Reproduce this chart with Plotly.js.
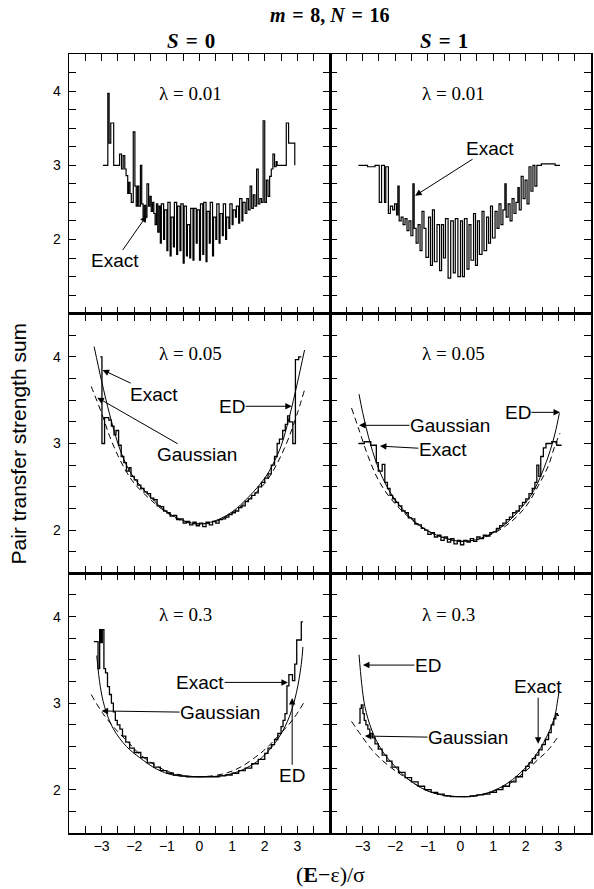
<!DOCTYPE html>
<html><head><meta charset="utf-8">
<script src="https://cdn.plot.ly/plotly-3.0.1.min.js"></script>
<style>html,body{margin:0;padding:0;background:#fff}</style>
</head><body><div id="chart" style="width:594px;height:889px"></div>
<script>
// ---------------- data ----------------
const xTickVals = [-4,-3.5,-3,-2.5,-2,-1.5,-1,-0.5,0,0.5,1,1.5,2,2.5,3,3.5,4];
const xTickText = ['','','\u22123','','\u22122','','\u22121','','0','','1','','2','','3','',''];
const yTickValsTop = [1,1.25,1.5,1.75,2,2.25,2.5,2.75,3,3.25,3.5,3.75,4,4.25,4.5];
const yTickTextTop = ['','','','','2','','','','3','','','','4','',''];
const yTickValsLow = [1.5,1.75,2,2.25,2.5,2.75,3,3.25,3.5,3.75,4,4.25,4.5];
const yTickTextLow = ['','','2','','','','3','','','','4','',''];

// S = 0, lambda = 0.01 : exact (step) [x, y]
const exactS0L001 = [[-2.96,3.00],[-2.81,3.97],[-2.77,3.30],[-2.72,3.57],[-2.63,3.00],[-2.45,3.15],[-2.39,2.95],[-2.34,3.13],[-2.29,2.95],[-2.25,2.86],[-2.20,2.62],[-2.17,2.77],[-2.13,2.62],[-2.09,2.50],[-2.03,3.45],[-1.98,2.72],[-1.94,2.45],[-1.90,2.72],[-1.86,2.45],[-1.81,3.00],[-1.77,2.48],[-1.73,2.30],[-1.69,2.46],[-1.65,2.30],[-1.61,2.75],[-1.56,2.45],[-1.52,2.58],[-1.48,2.38],[-1.44,2.50],[-1.40,2.35],[-1.36,2.20],[-1.32,2.48],[-1.28,2.10],[-1.24,2.45],[-1.20,1.95],[-1.17,2.48],[-1.10,2.00],[-1.07,2.40],[-1.00,1.85],[-0.97,2.50],[-0.90,1.78],[-0.87,2.30],[-0.80,1.90],[-0.77,2.50],[-0.70,1.80],[-0.67,2.45],[-0.60,1.85],[-0.57,2.48],[-0.50,1.68],[-0.47,2.45],[-0.40,1.78],[-0.37,2.20],[-0.30,1.75],[-0.27,2.42],[-0.20,1.72],[-0.17,2.42],[-0.10,1.95],[-0.07,2.40],[0.00,1.72],[0.03,2.48],[0.10,1.80],[0.13,2.50],[0.20,1.70],[0.23,2.38],[0.30,1.95],[0.33,2.50],[0.40,1.78],[0.43,2.30],[0.50,2.00],[0.53,2.48],[0.60,1.95],[0.63,2.35],[0.70,2.05],[0.73,2.48],[0.80,2.00],[0.83,2.30],[0.90,2.15],[0.93,2.48],[1.00,2.20],[1.03,2.40],[1.10,2.30],[1.13,2.45],[1.20,2.22],[1.23,2.55],[1.30,2.25],[1.33,2.50],[1.40,2.35],[1.45,2.55],[1.50,2.40],[1.55,2.72],[1.60,2.42],[1.65,2.60],[1.70,2.45],[1.75,2.95],[1.80,2.48],[1.85,2.55],[1.90,2.50],[1.95,3.60],[2.00,2.50],[2.05,2.80],[2.10,2.58],[2.15,2.85],[2.20,2.95],[2.25,3.15],[2.30,2.98],[2.35,3.05],[2.38,3.00],[2.66,3.57],[2.73,3.30],[2.92,3.00]];

// S = 1, lambda = 0.01 : exact (step)
const exactS1L001 = [[-3.13,3.00],[-2.85,2.98],[-2.62,3.00],[-2.49,2.50],[-2.42,3.00],[-2.33,2.50],[-2.29,2.98],[-2.21,2.35],[-2.15,2.45],[-2.08,2.40],[-2.02,2.48],[-1.96,2.33],[-1.92,2.72],[-1.88,2.25],[-1.82,2.30],[-1.76,2.20],[-1.70,2.28],[-1.64,2.12],[-1.58,2.25],[-1.52,2.05],[-1.46,2.75],[-1.42,2.15],[-1.36,1.95],[-1.30,2.20],[-1.24,1.85],[-1.18,2.38],[-1.12,2.15],[-1.06,1.76],[-0.98,2.30],[-0.92,1.65],[-0.86,2.40],[-0.80,1.70],[-0.72,2.20],[-0.64,1.58],[-0.58,2.20],[-0.52,1.75],[-0.46,2.28],[-0.38,1.48],[-0.30,2.25],[-0.22,1.55],[-0.16,2.28],[-0.08,1.50],[0.00,2.25],[0.06,1.50],[0.12,2.28],[0.20,1.60],[0.26,2.20],[0.32,1.72],[0.40,2.35],[0.46,1.65],[0.52,2.25],[0.58,1.80],[0.66,2.38],[0.72,1.85],[0.80,2.30],[0.86,1.95],[0.92,2.45],[0.98,2.02],[1.06,2.38],[1.12,2.15],[1.18,2.48],[1.24,2.20],[1.30,2.40],[1.36,2.75],[1.40,2.30],[1.46,2.48],[1.52,2.25],[1.58,2.55],[1.64,2.35],[1.70,2.50],[1.76,2.70],[1.80,2.40],[1.86,2.85],[1.92,2.55],[1.98,2.80],[2.04,2.48],[2.10,2.98],[2.16,2.65],[2.22,3.00],[2.28,2.72],[2.34,3.00],[2.48,3.02],[2.90,3.00],[3.05,3.00]];

// S = 0, lambda = 0.05
const exactS0L005 = [[-3.04,4.00],[-2.99,3.00],[-2.91,3.30],[-2.78,3.27],[-2.70,3.20],[-2.62,3.10],[-2.56,3.15],[-2.48,2.98],[-2.40,2.85],[-2.32,2.78],[-2.24,2.68],[-2.16,2.72],[-2.10,2.62],[-2.00,2.58],[-1.90,2.52],[-1.80,2.48],[-1.70,2.44],[-1.60,2.42],[-1.50,2.37],[-1.40,2.35],[-1.30,2.28],[-1.20,2.27],[-1.10,2.22],[-1.00,2.20],[-0.90,2.16],[-0.80,2.17],[-0.70,2.12],[-0.60,2.13],[-0.50,2.08],[-0.40,2.10],[-0.30,2.06],[-0.20,2.09],[-0.10,2.05],[0.00,2.08],[0.10,2.04],[0.20,2.09],[0.30,2.06],[0.40,2.10],[0.50,2.08],[0.60,2.12],[0.70,2.13],[0.80,2.15],[0.90,2.18],[1.00,2.20],[1.10,2.22],[1.20,2.26],[1.30,2.28],[1.40,2.33],[1.50,2.36],[1.60,2.40],[1.70,2.43],[1.80,2.50],[1.90,2.55],[2.00,2.60],[2.10,2.65],[2.20,2.75],[2.30,2.85],[2.38,3.00],[2.45,3.05],[2.55,3.15],[2.63,3.22],[2.70,3.32],[2.76,3.25],[2.86,3.00],[2.94,3.97],[3.04,4.00],[3.12,4.00]];
const edS0L005 = [[-3.23,4.12],[-3.00,3.72],[-2.75,3.33],[-2.50,3.00],[-2.25,2.76],[-2.00,2.60],[-1.50,2.38],[-1.00,2.21],[-0.50,2.11],[0.00,2.07],[0.50,2.11],[1.00,2.21],[1.50,2.38],[2.00,2.60],[2.25,2.76],[2.50,2.97],[2.75,3.30],[3.00,3.70],[3.22,4.08]];
const gaussS0L005 = [[-3.32,3.66],[-3.00,3.35],[-2.75,3.08],[-2.50,2.86],[-2.25,2.68],[-2.00,2.54],[-1.50,2.35],[-1.00,2.20],[-0.50,2.10],[0.00,2.07],[0.50,2.10],[1.00,2.20],[1.50,2.35],[2.00,2.54],[2.25,2.68],[2.50,2.86],[2.75,3.08],[3.00,3.35],[3.22,3.62]];

// S = 1, lambda = 0.05
const exactS1L005 = [[-3.13,3.00],[-2.95,3.02],[-2.75,2.98],[-2.58,2.78],[-2.52,2.68],[-2.40,2.76],[-2.32,2.55],[-2.24,2.48],[-2.16,2.40],[-2.08,2.36],[-2.00,2.32],[-1.90,2.28],[-1.80,2.22],[-1.70,2.20],[-1.60,2.14],[-1.50,2.13],[-1.40,2.07],[-1.30,2.06],[-1.20,2.02],[-1.10,2.00],[-1.00,1.95],[-0.90,1.97],[-0.80,1.92],[-0.70,1.94],[-0.60,1.88],[-0.50,1.92],[-0.40,1.86],[-0.30,1.90],[-0.20,1.84],[-0.10,1.88],[0.00,1.83],[0.10,1.88],[0.20,1.86],[0.30,1.90],[0.40,1.87],[0.50,1.92],[0.60,1.90],[0.70,1.94],[0.80,1.93],[0.90,1.97],[1.00,1.98],[1.10,2.02],[1.20,2.05],[1.30,2.08],[1.40,2.12],[1.50,2.15],[1.60,2.20],[1.70,2.22],[1.80,2.28],[1.90,2.32],[2.00,2.36],[2.10,2.42],[2.20,2.48],[2.28,2.55],[2.34,2.75],[2.40,2.62],[2.46,2.85],[2.54,2.95],[2.62,3.00],[2.80,3.02],[2.95,2.98],[3.10,2.98]];
const edS1L005 = [[-3.11,3.57],[-3.00,3.36],[-2.75,2.98],[-2.50,2.70],[-2.25,2.50],[-2.00,2.35],[-1.50,2.13],[-1.00,1.99],[-0.50,1.91],[0.00,1.87],[0.50,1.89],[1.00,1.97],[1.50,2.11],[2.00,2.32],[2.25,2.46],[2.50,2.66],[2.75,2.92],[2.90,3.12],[3.03,3.35]];
const gaussS1L005 = [[-3.34,3.41],[-3.13,3.18],[-2.83,2.85],[-2.52,2.58],[-2.11,2.35],[-1.50,2.12],[-1.00,1.99],[-0.50,1.91],[0.00,1.87],[0.50,1.89],[1.00,1.96],[1.50,2.08],[2.00,2.27],[2.38,2.51],[2.69,2.74],[2.89,2.97],[3.05,3.12]];

// S = 0, lambda = 0.3
const exactS0L03 = [[-3.24,3.71],[-3.11,3.40],[-3.06,3.85],[-3.02,3.70],[-2.98,3.85],[-2.93,3.40],[-2.88,3.35],[-2.82,3.19],[-2.76,3.10],[-2.70,3.00],[-2.64,2.90],[-2.58,2.80],[-2.52,2.75],[-2.44,2.70],[-2.36,2.62],[-2.26,2.55],[-2.14,2.48],[-2.00,2.43],[-1.80,2.37],[-1.60,2.31],[-1.40,2.26],[-1.20,2.22],[-1.00,2.19],[-0.80,2.17],[-0.60,2.16],[-0.40,2.15],[-0.20,2.15],[0.00,2.15],[0.20,2.15],[0.40,2.15],[0.60,2.16],[0.80,2.17],[1.00,2.19],[1.20,2.22],[1.40,2.25],[1.60,2.30],[1.80,2.35],[2.00,2.42],[2.10,2.48],[2.20,2.52],[2.30,2.58],[2.40,2.65],[2.50,2.73],[2.56,2.80],[2.62,2.88],[2.68,3.20],[2.74,3.33],[2.85,3.26],[2.92,3.45],[2.98,3.73],[3.12,3.94],[3.17,3.94]];
const edS0L03 = [[-3.15,3.55],[-3.04,3.19],[-2.91,2.96],[-2.65,2.71],[-2.24,2.50],[-1.83,2.37],[-1.32,2.24],[-0.81,2.17],[0.00,2.15],[0.82,2.17],[1.43,2.25],[1.94,2.38],[2.46,2.62],[2.76,2.85],[2.97,3.12],[3.12,3.45],[3.17,3.65]];
const gaussS0L03 = [[-3.32,3.10],[-2.96,2.88],[-2.55,2.69],[-2.14,2.53],[-1.83,2.41],[-1.30,2.27],[-0.80,2.19],[0.00,2.15],[0.80,2.19],[1.30,2.27],[1.83,2.41],[2.05,2.48],[2.46,2.64],[2.86,2.81],[3.22,3.02]];

// S = 1, lambda = 0.3
const exactS1L03 = [[-3.13,2.77],[-3.08,2.94],[-3.04,2.98],[-2.99,2.88],[-2.95,2.80],[-2.90,2.75],[-2.84,2.70],[-2.78,2.65],[-2.70,2.60],[-2.62,2.53],[-2.52,2.47],[-2.40,2.40],[-2.26,2.33],[-2.10,2.26],[-1.90,2.20],[-1.70,2.14],[-1.50,2.09],[-1.30,2.04],[-1.10,2.00],[-0.90,1.97],[-0.70,1.95],[-0.50,1.93],[-0.30,1.92],[-0.10,1.92],[0.10,1.92],[0.30,1.93],[0.50,1.94],[0.70,1.95],[0.90,1.97],[1.10,2.00],[1.30,2.04],[1.50,2.09],[1.70,2.15],[1.90,2.22],[2.00,2.27],[2.10,2.31],[2.20,2.36],[2.30,2.40],[2.40,2.46],[2.50,2.52],[2.60,2.58],[2.70,2.66],[2.78,2.75],[2.86,2.82],[2.92,2.88],[2.97,2.86],[3.02,2.86]];
const edS1L03 = [[-3.11,3.56],[-3.03,3.23],[-2.93,2.96],[-2.72,2.69],[-2.42,2.46],[-2.01,2.27],[-1.60,2.12],[-1.09,2.00],[-0.58,1.94],[-0.07,1.92],[0.44,1.93],[0.95,1.98],[1.46,2.08],[1.98,2.25],[2.38,2.44],[2.69,2.65],[2.89,2.85],[2.98,3.04],[3.02,3.13]];
const gaussS1L03 = [[-3.34,2.79],[-3.03,2.62],[-2.62,2.42],[-2.11,2.25],[-1.60,2.12],[-1.09,2.00],[-0.58,1.94],[0.00,1.92],[0.50,1.93],[1.00,1.98],[1.50,2.07],[1.98,2.21],[2.38,2.35],[2.69,2.46],[3.00,2.62]];

// ---------------- drawing ----------------
const K = '#000';
function exactTrace(d, xa, ya, w){ return {x:d.map(p=>p[0]), y:d.map(p=>p[1]), xaxis:xa, yaxis:ya, mode:'lines', line:{shape:'hv', color:K, width:w||1.3}, hoverinfo:'skip', showlegend:false}; }
function edTrace(d, xa, ya){ return {x:d.map(p=>p[0]), y:d.map(p=>p[1]), xaxis:xa, yaxis:ya, mode:'lines', line:{shape:'spline', smoothing:1, color:K, width:1}, hoverinfo:'skip', showlegend:false}; }
function gaussTrace(d, xa, ya){ return {x:d.map(p=>p[0]), y:d.map(p=>p[1]), xaxis:xa, yaxis:ya, mode:'lines', line:{shape:'spline', smoothing:1, color:K, width:1, dash:'6px,4px'}, hoverinfo:'skip', showlegend:false}; }

const traces = [
  exactTrace(exactS0L001,'x','y',1.2),
  exactTrace(exactS1L001,'x2','y2',1.2),
  gaussTrace(gaussS0L005,'x3','y3'), edTrace(edS0L005,'x3','y3'), exactTrace(exactS0L005,'x3','y3'),
  gaussTrace(gaussS1L005,'x4','y4'), edTrace(edS1L005,'x4','y4'), exactTrace(exactS1L005,'x4','y4'),
  gaussTrace(gaussS0L03,'x5','y5'), edTrace(edS0L03,'x5','y5'), exactTrace(exactS0L03,'x5','y5'),
  gaussTrace(gaussS1L03,'x6','y6'), edTrace(edS1L03,'x6','y6'), exactTrace(exactS1L03,'x6','y6')
];

const SANS = 'Liberation Sans, Arial, Helvetica, sans-serif';
const SERIF = 'Liberation Serif, Times New Roman, serif';
const base = {showline:true, linecolor:K, linewidth:1.5, mirror:'allticks', ticks:'inside', ticklen:7, tickwidth:1, tickcolor:K,
  showgrid:false, zeroline:false, tickmode:'array', tickfont:{family:SANS, size:14, color:K}, fixedrange:true};
function xa(dom, anchor, labels){ return Object.assign({}, base, {domain:dom, anchor:anchor, range:[-4,4], tickvals:xTickVals, ticktext:xTickText, showticklabels:labels}); }
function ya(dom, anchor, top, labels){ return Object.assign({}, base, {domain:dom, anchor:anchor, range: top?[1,4.5]:[1.5,4.5], tickvals: top?yTickValsTop:yTickValsLow, ticktext: top?yTickTextTop:yTickTextLow, showticklabels:labels, ticklabelstandoff:4}); }

const C1=[0,0.5], C2=[0.5,1], R1=[2/3,1], R2=[1/3,2/3], R3=[0,1/3];

function arrow(text, xr, yr, x, y, ax, ay){
  return {text:text, xref:xr, yref:yr, axref:xr, ayref:yr, x:x, y:y, ax:ax, ay:ay, showarrow:true,
    arrowhead:2, arrowsize:1.3, arrowwidth:1, arrowcolor:K, font:{family:SANS, size:19, color:K}, borderpad:0};
}
function lam(text, x, y){ return {text:text, xref:'paper', yref:'paper', x:x, y:y, xanchor:'left', yanchor:'middle', showarrow:false, font:{family:SERIF, size:19, color:K}}; }

const annotations = [
  {text:'<b><i>m</i>\u2004=\u20048, <i>N</i>\u2004=\u200416</b>', xref:'paper', yref:'paper', x:0.5, y:1.05, xanchor:'center', yanchor:'middle', showarrow:false, font:{family:SERIF, size:20, color:K}},
  {text:'<b><i>S</i>\u2004=\u20040</b>', xref:'paper', yref:'paper', x:0.2337, y:1.0167, xanchor:'center', yanchor:'middle', showarrow:false, font:{family:SERIF, size:21, color:K}},
  {text:'<b><i>S</i>\u2004=\u20041</b>', xref:'paper', yref:'paper', x:0.7184, y:1.0167, xanchor:'center', yanchor:'middle', showarrow:false, font:{family:SERIF, size:21, color:K}},
  {text:'Pair transfer strength sum', xref:'paper', yref:'paper', x:-0.0977, y:0.5, xanchor:'center', yanchor:'middle', textangle:-90, showarrow:false, font:{family:SANS, size:21, color:K}},
  {text:'(<b>E</b>\u2212\u03b5)/\u03c3', xref:'paper', yref:'paper', x:0.5, y:-0.0539, xanchor:'center', yanchor:'middle', showarrow:false, font:{family:SERIF, size:22, color:K}},
  lam('\u03bb = 0.01', 0.1686, 0.9499), lam('\u03bb = 0.01', 0.6724, 0.9499),
  lam('\u03bb = 0.05', 0.1686, 0.6149), lam('\u03bb = 0.05', 0.6724, 0.6149),
  lam('\u03bb = 0.3', 0.1686, 0.2811), lam('\u03bb = 0.3', 0.6724, 0.2811),
  arrow('Exact','x','y', -1.62, 2.32, -2.59, 1.71),
  arrow('Exact','x2','y2', -1.39, 2.59, 0.90, 3.23),
  arrow('Exact','x3','y3', -2.97, 3.85, -1.39, 3.57),
  arrow('Gaussian','x3','y3', -3.13, 3.53, -0.08, 2.87),
  arrow('ED','x3','y3', 2.83, 3.43, 1.0, 3.43),
  arrow('Gaussian','x4','y4', -3.11, 3.21, -0.32, 3.21),
  arrow('Exact','x4','y4', -2.47, 2.97, -0.54, 2.93),
  arrow('ED','x4','y4', 3.05, 3.36, 1.76, 3.36),
  arrow('Exact','x5','y5', 2.71, 3.24, 0.02, 3.24),
  arrow('Gaussian','x5','y5', -3.0, 2.91, 0.63, 2.89),
  arrow('ED','x5','y5', 2.84, 3.06, 2.84, 2.16),
  arrow('ED','x6','y6', -2.99, 3.44, -1.0, 3.44),
  arrow('Exact','x6','y6', 2.38, 2.53, 2.38, 3.19),
  arrow('Gaussian','x6','y6', -2.93, 2.62, 0.23, 2.60)
];

const layout = {
  width:594, height:889, margin:{l:69, r:3, t:54, b:56}, paper_bgcolor:'#fff', plot_bgcolor:'#fff', showlegend:false,
  xaxis: xa(C1,'y',false),  yaxis: ya(R1,'x',true,true),
  xaxis2: xa(C2,'y2',false), yaxis2: ya(R1,'x2',true,false),
  xaxis3: xa(C1,'y3',false), yaxis3: ya(R2,'x3',false,true),
  xaxis4: xa(C2,'y4',false), yaxis4: ya(R2,'x4',false,false),
  xaxis5: xa(C1,'y5',true),  yaxis5: ya(R3,'x5',false,true),
  xaxis6: xa(C2,'y6',true),  yaxis6: ya(R3,'x6',false,false),
  annotations: annotations
};
Plotly.newPlot('chart', traces, layout, {staticPlot:true, displayModeBar:false});
</script></body></html>
